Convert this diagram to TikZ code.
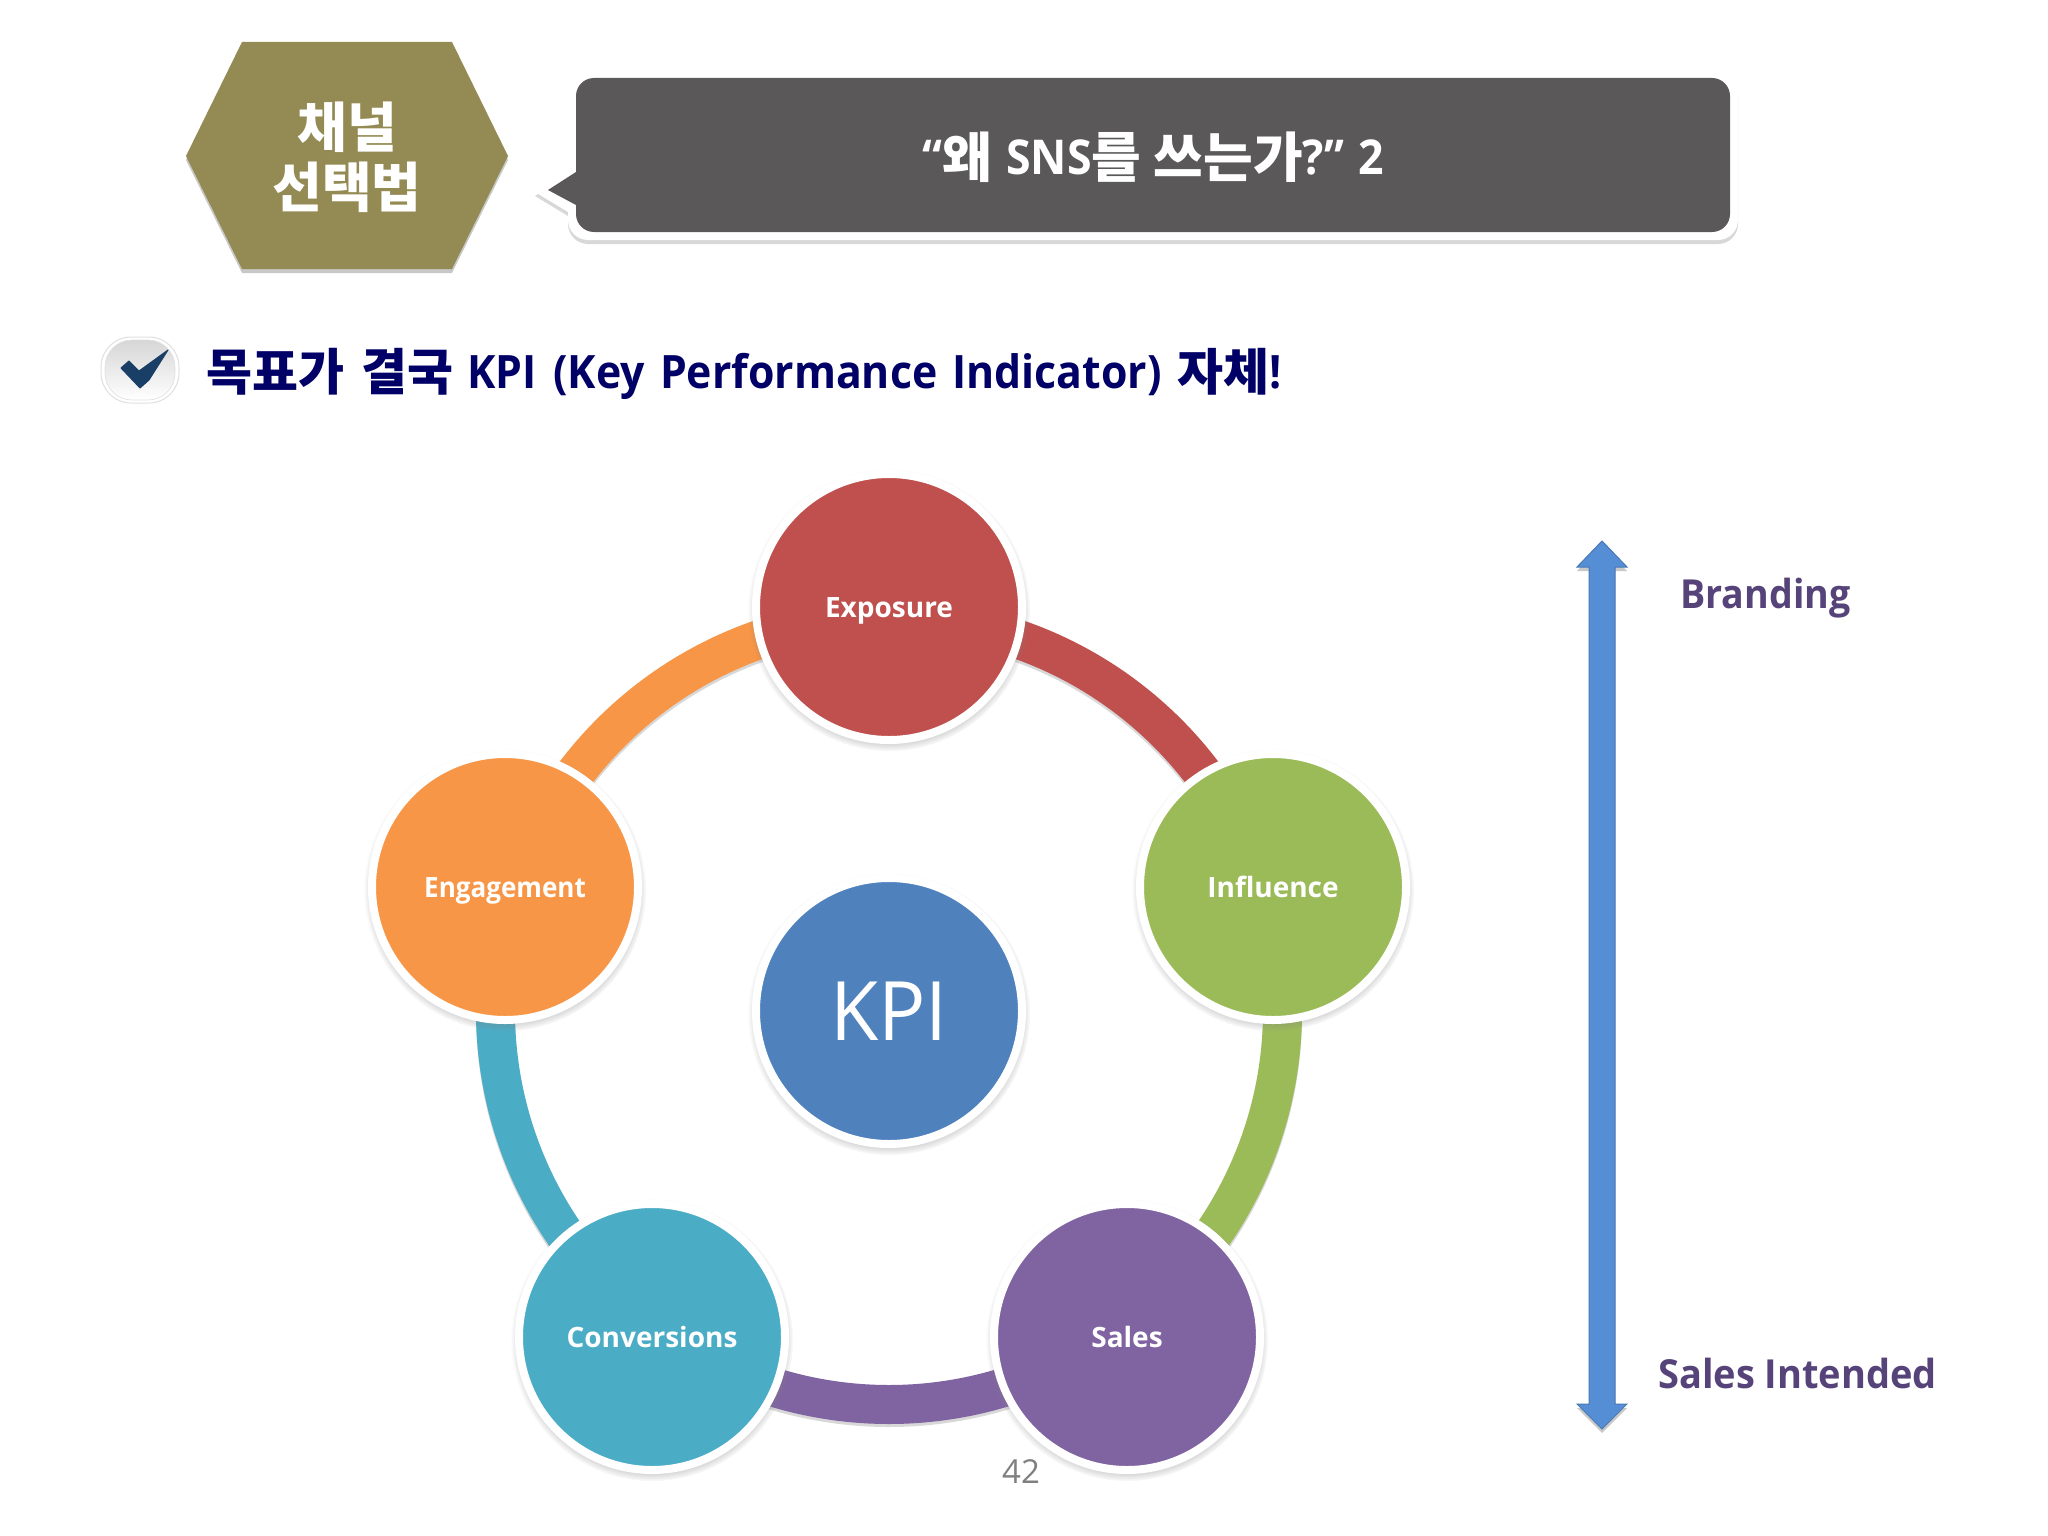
\documentclass[tikz,border=0pt]{standalone}
\usepackage{fontspec}
\newfontfamily\kr{Noto Sans CJK KR}
\newfontfamily\krm{Noto Sans CJK KR Medium}
\newfontfamily\lat{Open Sans}
\usetikzlibrary{shadows,shapes.geometric}
\definecolor{cExp}{HTML}{C0504D}
\definecolor{cInf}{HTML}{9BBB59}
\definecolor{cSal}{HTML}{8064A2}
\definecolor{cCon}{HTML}{4BACC6}
\definecolor{cEng}{HTML}{F79646}
\definecolor{cKpi}{HTML}{4F81BD}
\definecolor{cHex}{HTML}{948A54}
\definecolor{cDark}{HTML}{5A5859}
\definecolor{cNavy}{HTML}{000066}
\definecolor{cLab}{HTML}{55437A}
\definecolor{cArrow}{HTML}{558ED5}
\definecolor{cCheck}{HTML}{1A3F66}
\newcommand{\krsize}{50}
\newcommand{\krt}[1]{\raisebox{-2pt}{\krm\fontsize{\krsize}{60}\selectfont #1}}
\newcommand{\latn}[1]{\scalebox{.93}[1]{#1}}
\tikzset{
  softshadow/.style={drop shadow={shadow xshift=0pt,shadow yshift=-4pt,opacity=.3,fill=black!70}},
  bubble/.style={circle,minimum size=266pt,inner sep=0pt,outer sep=0pt,draw=white,line width=8pt,text=white,
     text height=22pt,text depth=1pt,
     font=\lat\bfseries\fontsize{28}{32}\selectfont,circular drop shadow={shadow xshift=0pt,shadow yshift=-3pt,shadow scale=1.06,opacity=.8}},
  lab/.style={anchor=base west,inner sep=0pt,text=cLab,font=\lat\bfseries\fontsize{40}{44}\selectfont},
  x=1pt,y=-1pt}
\newcommand{\ringseg}[2]{%
  \pgfmathsetmacro{\aEnd}{#1+72}
  \fill[#2,drop shadow={shadow xshift=0pt,shadow yshift=-3pt,opacity=.3}]
    ([shift={(#1:413)}]hub) arc[start angle=#1,end angle=\aEnd,radius=413]
    -- ([shift={(\aEnd:374)}]hub) arc[start angle=\aEnd,end angle=#1,radius=374] -- cycle;}
\begin{document}
\begin{tikzpicture}
\useasboundingbox (0,0) rectangle (2048,1536);
\fill[white] (0,0) rectangle (2048,1536);
% hexagon
\fill[cHex,softshadow] (186,156) -- (242,42) -- (452,42) -- (508,156) -- (452,269) -- (242,269) -- cycle;
\node[align=center,text=white,inner sep=0pt,font=\kr\bfseries\fontsize{54}{60}\selectfont] (hexlab) at (347,157) {채널\\선택법};
% callout
\fill[white,drop shadow={shadow xshift=0pt,shadow yshift=-4pt,opacity=.3}]
  (535,192) -- (568,170) -- (568,92) arc[start angle=180,end angle=270,radius=20] -- (1718,72)
  arc[start angle=270,end angle=360,radius=20] -- (1738,220) arc[start angle=0,end angle=90,radius=20]
  -- (588,240) arc[start angle=90,end angle=180,radius=20] -- (568,212) -- cycle;
\fill[cDark] (548,190) -- (576,172) -- (576,96) arc[start angle=180,end angle=270,radius=18] -- (1712,78)
  arc[start angle=270,end angle=360,radius=18] -- (1730,214) arc[start angle=0,end angle=90,radius=18]
  -- (594,232) arc[start angle=90,end angle=180,radius=18] -- (576,205) -- cycle;
\renewcommand{\krsize}{54}
\node[text=white,inner sep=0pt,anchor=base] (title) at (1153,175)
  {\fontsize{48}{50}\selectfont\lat\bfseries \latn{“}\krt{왜}\hspace{2pt} \latn{SNS}\krt{를 쓰는가}\latn{?”}\hspace{2pt} \latn{2}};
% badge
\draw[black!12,line width=1pt,rounded corners=30pt] (101,337) rectangle (179,403);
\shade[top color=black!16,bottom color=white,draw=black!12,line width=.6pt,rounded corners=27pt] (105,340) rectangle (175,400);
\fill[cCheck,draw=cCheck,line width=1pt,line join=round]
  (121,368) -- (129,361) -- (139,371) -- (168,350) -- (149,380) -- (140,388) -- cycle;
% heading
\renewcommand{\krsize}{50}
\node[anchor=base west,inner sep=0pt,text=cNavy] (heading) at (206,388)
  {\fontsize{46}{50}\selectfont\lat\bfseries \krt{목표가}\hspace{5pt} \krt{결국}\hspace{2pt} \latn{KPI}\hspace{5pt} \latn{(Key}\hspace{3pt} \latn{Performance}\hspace{3pt} \latn{Indicator)}\hspace{4pt} \krt{자체}\latn{!}};
% ring
\coordinate (hub) at (889,1011);
\ringseg{-90}{cExp}
\ringseg{-18}{cInf}
\ringseg{54}{cSal}
\ringseg{126}{cCon}
\ringseg{198}{cEng}
% circles
\node[bubble,fill=cExp] (exposure) at (889,607) {Exposure};
\node[bubble,fill=cInf] (influence) at (1273,887) {Influence};
\node[bubble,fill=cSal] (sales) at (1127,1337) {Sales};
\node[bubble,fill=cCon] (conversions) at (652,1337) {Conversions};
\node[bubble,fill=cEng] (engagement) at (505,887) {\scalebox{.93}[1]{Engagement}};
\node[bubble,fill=cKpi,font=\lat\fontsize{82}{90}\selectfont,text height=59pt,text depth=0pt] (kpi) at (889,1011) {\scalebox{.96}[1]{KPI}};
% arrow
\fill[cArrow,draw=cArrow!85!black,line width=1pt,softshadow]
 (1602,541) -- (1627,567) -- (1615,567) -- (1615,1404) -- (1627,1404) -- (1602,1429) -- (1577,1404) -- (1589,1404) -- (1589,567) -- (1577,567) -- cycle;
\node[lab] (branding) at (1680,608) {\scalebox{.94}[1]{Branding}};
\node[lab] (salesint) at (1658,1388) {\scalebox{.95}[1]{Sales Intended}};
\node[anchor=base west,inner sep=0pt,text=black!50,font=\lat\fontsize{33}{36}\selectfont] (page) at (1002,1483) {42};
\end{tikzpicture}
\end{document}
